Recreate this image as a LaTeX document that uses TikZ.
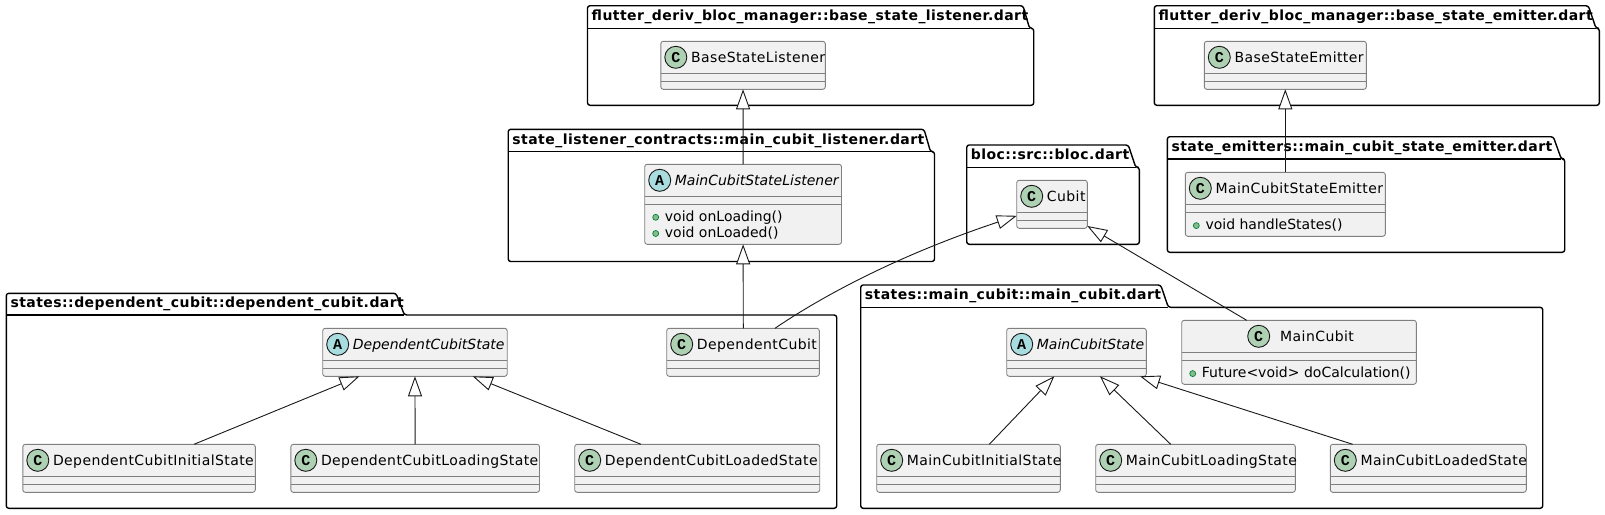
\documentclass[tikz,border=0pt]{standalone}
\usepackage{fontspec}
\setmainfont{DejaVu Sans}[LetterSpace=3,BoldFeatures={LetterSpace=3.2},ItalicFeatures={LetterSpace=0}]
\newfontfamily\memberfont{DejaVu Sans}
\newfontfamily\glyphfont{Liberation Mono}
\usetikzlibrary{arrows.meta}
\definecolor{clsfill}{HTML}{F1F1F1}
\definecolor{clsline}{HTML}{808080}
\definecolor{ink}{HTML}{181818}
\definecolor{cgreen}{HTML}{ADD1B2}
\definecolor{acyan}{HTML}{A9DCDF}
\definecolor{bulletfill}{HTML}{84BE84}
\definecolor{bulletline}{HTML}{038048}
\tikzset{
  x=1pt,y=-1pt,
  pkgline/.style={draw=black,line width=1.4pt,line join=round},
  pkglabel/.style={anchor=base west,inner sep=0pt,font=\fontsize{14}{16}\selectfont\bfseries,text=black},
  clsbox/.style={draw=clsline,fill=clsfill,line width=0.9pt,rectangle,rounded corners=2.5pt,inner sep=0pt,outer sep=0pt},
  clsrule/.style={draw=clsline,line width=0.9pt},
  clstext/.style={anchor=base west,inner sep=0pt,font=\fontsize{14}{16}\selectfont,text=black},
  membertext/.style={anchor=base west,inner sep=0pt,font=\fontsize{14}{16}\selectfont\memberfont,text=black},
  spotC/.style={circle,draw=ink,line width=0.9pt,fill=cgreen,minimum size=22pt,inner sep=0pt,font=\fontsize{15}{16}\selectfont\glyphfont\bfseries},
  spotA/.style={circle,draw=ink,line width=0.9pt,fill=acyan,minimum size=22pt,inner sep=0pt,font=\fontsize{15}{16}\selectfont\glyphfont\bfseries},
  bullet/.style={circle,draw=bulletline,line width=0.7pt,fill=bulletfill,minimum size=6pt,inner sep=0pt},
  ext/.style={draw=ink,line width=0.9pt,-{Triangle[open,length=20pt,width=14pt,fill=white]}},
}
% name, x1, top, tabline, x2, bottom, tab top right, tab bottom right, label
\newcommand{\umlpkg}[9]{
  \draw[pkgline,rounded corners=2.5pt] (#2,#4) -- (#2,#3) -- (#7,#3) -- (#8,#4) -- (#5,#4) -- (#5,#6) -- (#2,#6) -- cycle;
  \draw[pkgline] (#2,#4) -- (#8,#4);
  \node[pkglabel] (#1) at ({#2+4},{#4-7.5}) {#9};
}
% name, x1, top, x2, bottom, C/A, circle offset, text offset, text
\newcommand{\umlcls}[9]{
  \node[clsbox,minimum width={(#4-#2)*1pt},minimum height={(#5-#3)*1pt}] (#1) at ({(#2+#4)/2},{(#3+#5)/2}) {};
  \draw[clsrule] (#2,{#3+32}) -- (#4,{#3+32});
  \draw[clsrule] (#2,{#3+40}) -- (#4,{#3+40});
  \node[spot#6] (#1-spot) at ({#2+#7},{#3+16}) {#6};
  \node[clstext] (#1-name) at ({#2+#8},{#3+21}) {\ifx A#6\itshape\fi #9};
}
% name, x1, bullet y, text
\newcommand{\umlmember}[4]{
  \node[bullet] (#1-b) at ({#2+11},#3) {};
  \node[membertext] (#1-t) at ({#2+20},{#3+4}) {#4};
}
\begin{document}
\begin{tikzpicture}
\useasboundingbox (0,0) rectangle (1605,514);
\fill[white] (0,0) rectangle (1605,514);

\umlpkg{pBaseL}{587.5}{5.7}{28.3}{1033.7}{105.3}{1023}{1029.5}{flutter\_deriv\_bloc\_manager::base\_state\_listener.dart}
\umlpkg{pBaseE}{1154.3}{5.7}{28.3}{1599.3}{105.3}{1588.3}{1596}{flutter\_deriv\_bloc\_manager::base\_state\_emitter.dart}
\umlpkg{pContr}{508.2}{129.3}{151.7}{934.5}{261.5}{924}{930.5}{state\_listener\_contracts::main\_cubit\_listener.dart}
\umlpkg{pEmit}{1167.3}{136.7}{159}{1564.7}{252.3}{1553.3}{1561.3}{state\_emitters::main\_cubit\_state\_emitter.dart}
\umlpkg{pBloc}{966.7}{145}{167.3}{1139.3}{244.3}{1128.3}{1135.7}{bloc::src::bloc.dart}
\umlpkg{pDep}{6.3}{293.3}{315}{836.7}{508.3}{396}{404.4}{states::dependent\_cubit::dependent\_cubit.dart}
\umlpkg{pMain}{860.7}{285}{307.3}{1542.7}{508.3}{1160.7}{1168.3}{states::main\_cubit::main\_cubit.dart}

\umlcls{bsl}{660.8}{41.3}{825.3}{89.3}{C}{15}{30}{BaseStateListener}
\umlcls{bse}{1204.3}{41.3}{1366.3}{89.3}{C}{15}{30}{BaseStateEmitter}
\umlcls{mcsl}{644.7}{164.3}{841.5}{244.3}{A}{15}{30}{MainCubitStateListener}
\umlmember{mcslA}{644.7}{217.3}{void onLoading()}
\umlmember{mcslB}{644.7}{233.5}{void onLoaded()}
\umlcls{mcse}{1185.3}{172.3}{1385.3}{236.3}{C}{15}{30}{MainCubitStateEmitter}
\umlmember{mcseA}{1185.3}{225.6}{void handleStates()}
\umlcls{cubit}{1016.7}{180.3}{1087.3}{228.3}{C}{15}{30}{Cubit}
\umlcls{dcs}{322.7}{328.3}{507.2}{376.3}{A}{15}{30}{DependentCubitState}
\umlcls{dc}{666.7}{328.3}{819.3}{376.3}{C}{15}{30}{DependentCubit}
\umlcls{dci}{22.8}{444.3}{255.3}{492.3}{C}{15}{30}{DependentCubitInitialState}
\umlcls{dcl}{290.8}{444.3}{539.5}{492.3}{C}{15}{30}{DependentCubitLoadingState}
\umlcls{dcd}{574.7}{444.3}{819.7}{492.3}{C}{15}{30}{DependentCubitLoadedState}
\umlcls{mcs}{1006.7}{328.3}{1146.3}{376.3}{A}{15}{30}{MainCubitState}
\umlcls{mc}{1181.7}{320.3}{1416.3}{384.3}{C}{77}{98.3}{MainCubit}
\umlmember{mcA}{1181.7}{373.6}{Future<void> doCalculation()}
\umlcls{mci}{876.7}{444.3}{1060.3}{492.3}{C}{15}{30}{MainCubitInitialState}
\umlcls{mcl}{1095.7}{444.3}{1295.3}{492.3}{C}{15}{30}{MainCubitLoadingState}
\umlcls{mcd}{1330.3}{444.3}{1526.3}{492.3}{C}{15}{30}{MainCubitLoadedState}

\draw[ext] (mcsl.north) -- (bsl.south);
\draw[ext] (mcse.north) -- (bse.south);
\draw[ext] ([xshift=76.6pt]dc.north west) -- (mcsl.south);
\draw[ext] ([xshift=108.3pt]dc.north west) .. controls (815,301) and (890,258) .. ([yshift=-11.5pt]cubit.west);
\draw[ext] ([xshift=65pt]mc.north west) -- ([yshift=2.3pt]cubit.south east);
\draw[ext] ([xshift=171.2pt]dci.north west) -- ([xshift=36.8pt]dcs.south west);
\draw[ext] (dcl.north) -- (dcs.south);
\draw[ext] ([xshift=66.3pt]dcd.north west) -- ([xshift=150pt]dcs.south west);
\draw[ext] ([xshift=112.6pt]mci.north west) -- ([xshift=47.6pt]mcs.south west);
\draw[ext] ([xshift=75pt]mcl.north west) -- ([xshift=93.3pt]mcs.south west);
\draw[ext] ([xshift=22.4pt]mcd.north west) -- ([xshift=133.3pt]mcs.south west);
\end{tikzpicture}
\end{document}
